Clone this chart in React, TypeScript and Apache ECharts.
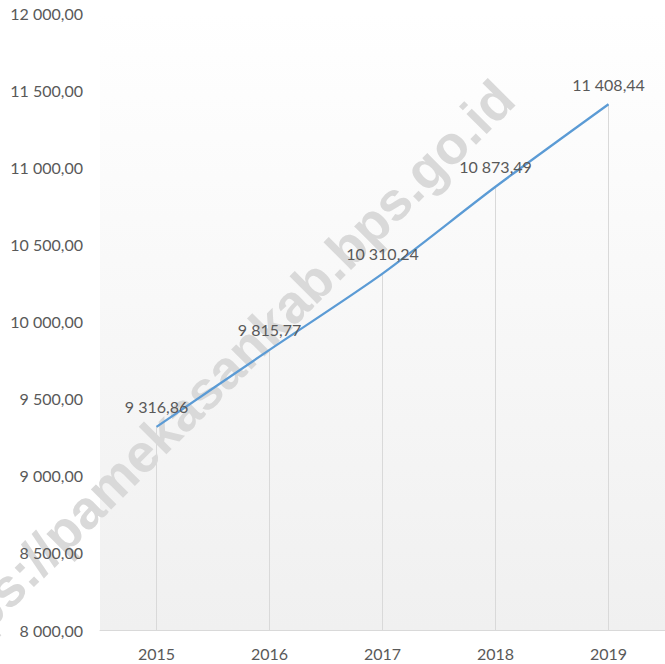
import React, { useEffect, useRef } from "react";
import * as echarts from "echarts";

const years = ["2015", "2016", "2017", "2018", "2019"];
const values = [9316.86, 9815.77, 10310.24, 10873.49, 11408.44];
const yMin = 8000;
const yMax = 12000;
const yStep = 500;
const watermark = "https://pamekasankab.bps.go.id";

function fmt(v: number): string {
  const [i, d] = v.toFixed(2).split(".");
  return i.replace(/\B(?=(\d{3})+(?!\d))/g, " ") + "," + d;
}

export default function App() {
  const ref = useRef<HTMLDivElement>(null);
  useEffect(() => {
    document.body.style.margin = "0";
    const chart = echarts.init(ref.current!, null, { renderer: "svg" });
    const font = "Lato, 'Open Sans', sans-serif";
    chart.setOption({
      animation: false,
      backgroundColor: "#ffffff",
      grid: {
        left: 100,
        right: 0,
        top: 13,
        bottom: 34,
        show: true,
        z: 0,
        borderWidth: 0,
        backgroundColor: new echarts.graphic.LinearGradient(0, 0, 0, 1, [
          { offset: 0, color: "#ffffff" },
          { offset: 1, color: "#f0f0f0" },
        ]),
      },
      graphic: [
        {
          type: "text",
          x: 214,
          y: 380,
          rotation: Math.PI / 4,
          z: 1,
          silent: true,
          style: {
            text: watermark,
            fill: "#d9d9d9",
            font: "bold 54px 'Liberation Sans', Arial, sans-serif",
            align: "center",
            verticalAlign: "middle",
          },
        },
      ],
      xAxis: {
        type: "category",
        data: years,
        boundaryGap: true,
        z: 4,
        axisLine: { show: true, lineStyle: { color: "#d9d9d9", width: 1 } },
        axisTick: { show: false },
        axisLabel: { color: "#595959", fontSize: 16, fontFamily: font, margin: 15 },
        splitLine: { show: false },
      },
      yAxis: {
        type: "value",
        min: yMin,
        max: yMax,
        interval: yStep,
        z: 4,
        axisLine: { show: false },
        axisTick: { show: false },
        splitLine: { show: false },
        axisLabel: {
          color: "#595959",
          fontSize: 16,
          fontFamily: font,
          margin: 17,
          formatter: (v: number) => fmt(v),
        },
      },
      series: [
        {
          type: "bar",
          data: values,
          barWidth: 1,
          silent: true,
          z: 3,
          itemStyle: { color: "#d9d9d9" },
          clip: true,
        },
        {
          type: "line",
          data: values,
          smooth: 0.25,
          showSymbol: true,
          symbol: "circle",
          symbolSize: 2,
          z: 5,
          itemStyle: { color: "rgba(91,155,213,0)" },
          lineStyle: { color: "#5b9bd5", width: 2.25 },
          label: {
            show: true,
            position: "top",
            distance: 11,
            color: "#595959",
            fontSize: 16,
            fontFamily: font,
            formatter: (p: any) => fmt(p.value),
          },
        },
      ],
    });
    return () => chart.dispose();
  }, []);
  return <div ref={ref} style={{ width: 665, height: 664 }} />;
}
